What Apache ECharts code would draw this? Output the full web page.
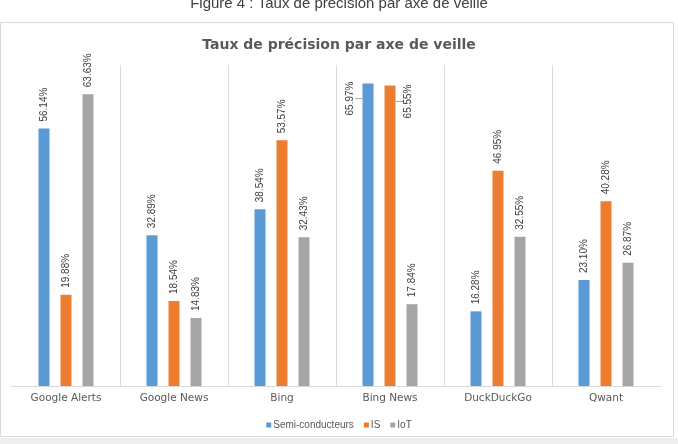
<!DOCTYPE html>
<html>
<head>
<meta charset="UTF-8">
<script type="text/javascript" src="https://cdn.jsdelivr.net/npm/echarts@6/dist/echarts.min.js"></script>
<title>Taux de précision</title>
<style>
	html, body { margin:0; padding:0; background:#ffffff; }
</style>
</head>
<body>
	<div id="main" style="width:678px;height:444px;"></div>
	<script type="text/javascript">
		// axes de veille
		var axes = ['Google Alerts','Google News','Bing','Bing News','DuckDuckGo','Qwant'];
		var seriesNames = ['Semi-conducteurs','IS','IoT'];
		var semi = [56.14, 32.89, 38.54, 65.97, 16.28, 23.10];
		var is = [19.88, 18.54, 53.57, 65.55, 46.95, 40.28];
		var iot = [63.63, 14.83, 32.43, 17.84, 32.55, 26.87];
		var colors = ['#5B9BD5','#ED7D31','#A5A5A5'];

		var myChart = echarts.init(document.getElementById("main"));

		var labelCfg = {
			show:true,
			position:'top',
			distance:7,
			rotate:90,
			align:'left',
			verticalAlign:'middle',
			fontSize:10,
			fontFamily:'Liberation Sans, Arial',
			color:'#404040',
			formatter:function(p){ return p.value.toFixed(2) + '%'; }
		};

		// Bing News : étiquettes déplacées sur le côté
		function withSide(values, idx, pos){
			return values.map(function(v, i){
				if(i !== idx) return v;
				return {
					value:v,
					label:{position:pos},
					labelLine:{show:true, lineStyle:{color:'#a6a6a6', width:1}}
				};
			});
		}

		function makeSeries(name, data, color){
			return {
				name:name,
				type:'bar',
				barWidth:11,
				barGap:'100%',
				itemStyle:{color:color},
				label:labelCfg,
				data:data
			};
		}

		var option = {
			animation:false,
			title:{
				text:'Taux de précision par axe de veille',
				left:'center',
				top:33,
				textStyle:{fontSize:14, fontWeight:'bold', color:'#595959', fontFamily:'DejaVu Sans'}
			},
			graphic:[
				{type:'rect', z:-10, shape:{x:0.5, y:22.5, width:673, height:414}, style:{fill:'#ffffff', stroke:'#d9d9d9', lineWidth:1}},
				{type:'rect', z:-10, shape:{x:0, y:438, width:678, height:6}, style:{fill:'#eeeeee'}},
				// pas de séparateur aux deux extrémités
				{type:'rect', z:100, shape:{x:10.5, y:64, width:3, height:321.5}, style:{fill:'#ffffff'}},
				{type:'rect', z:100, shape:{x:658.5, y:64, width:3, height:321.5}, style:{fill:'#ffffff'}},
				{type:'text', left:'center', top:-4, style:{text:'Figure 4 : Taux de précision par axe de veille', fontSize:15, fill:'#404040', fontFamily:'Liberation Sans, Arial'}}
			],
			legend:{
				top:415,
				left:'center',
				itemWidth:5,
				itemHeight:5,
				itemGap:10,
				icon:'rect',
				textStyle:{fontSize:10, color:'#595959', fontFamily:'Liberation Sans, Arial', padding:[0,0,0,-3]},
				data:seriesNames
			},
			grid:{left:12, right:18, top:65, bottom:58, containLabel:false},
			xAxis:{
				type:'category',
				data:axes,
				axisLine:{lineStyle:{color:'#d9d9d9'}},
				axisTick:{show:false},
				splitLine:{show:true, lineStyle:{color:'#d9d9d9'}},
				axisLabel:{fontSize:10.5, color:'#595959', margin:7, fontFamily:'DejaVu Sans'}
			},
			yAxis:{
				type:'value',
				min:0,
				max:70,
				show:false
			},
			series:[
				makeSeries(seriesNames[0], withSide(semi, 3, [-12, 32]), colors[0]),
				makeSeries(seriesNames[1], withSide(is, 3, [24, 33]), colors[1]),
				makeSeries(seriesNames[2], iot, colors[2])
			]
		};
		myChart.setOption(option);
	</script>
</body>
</html>
